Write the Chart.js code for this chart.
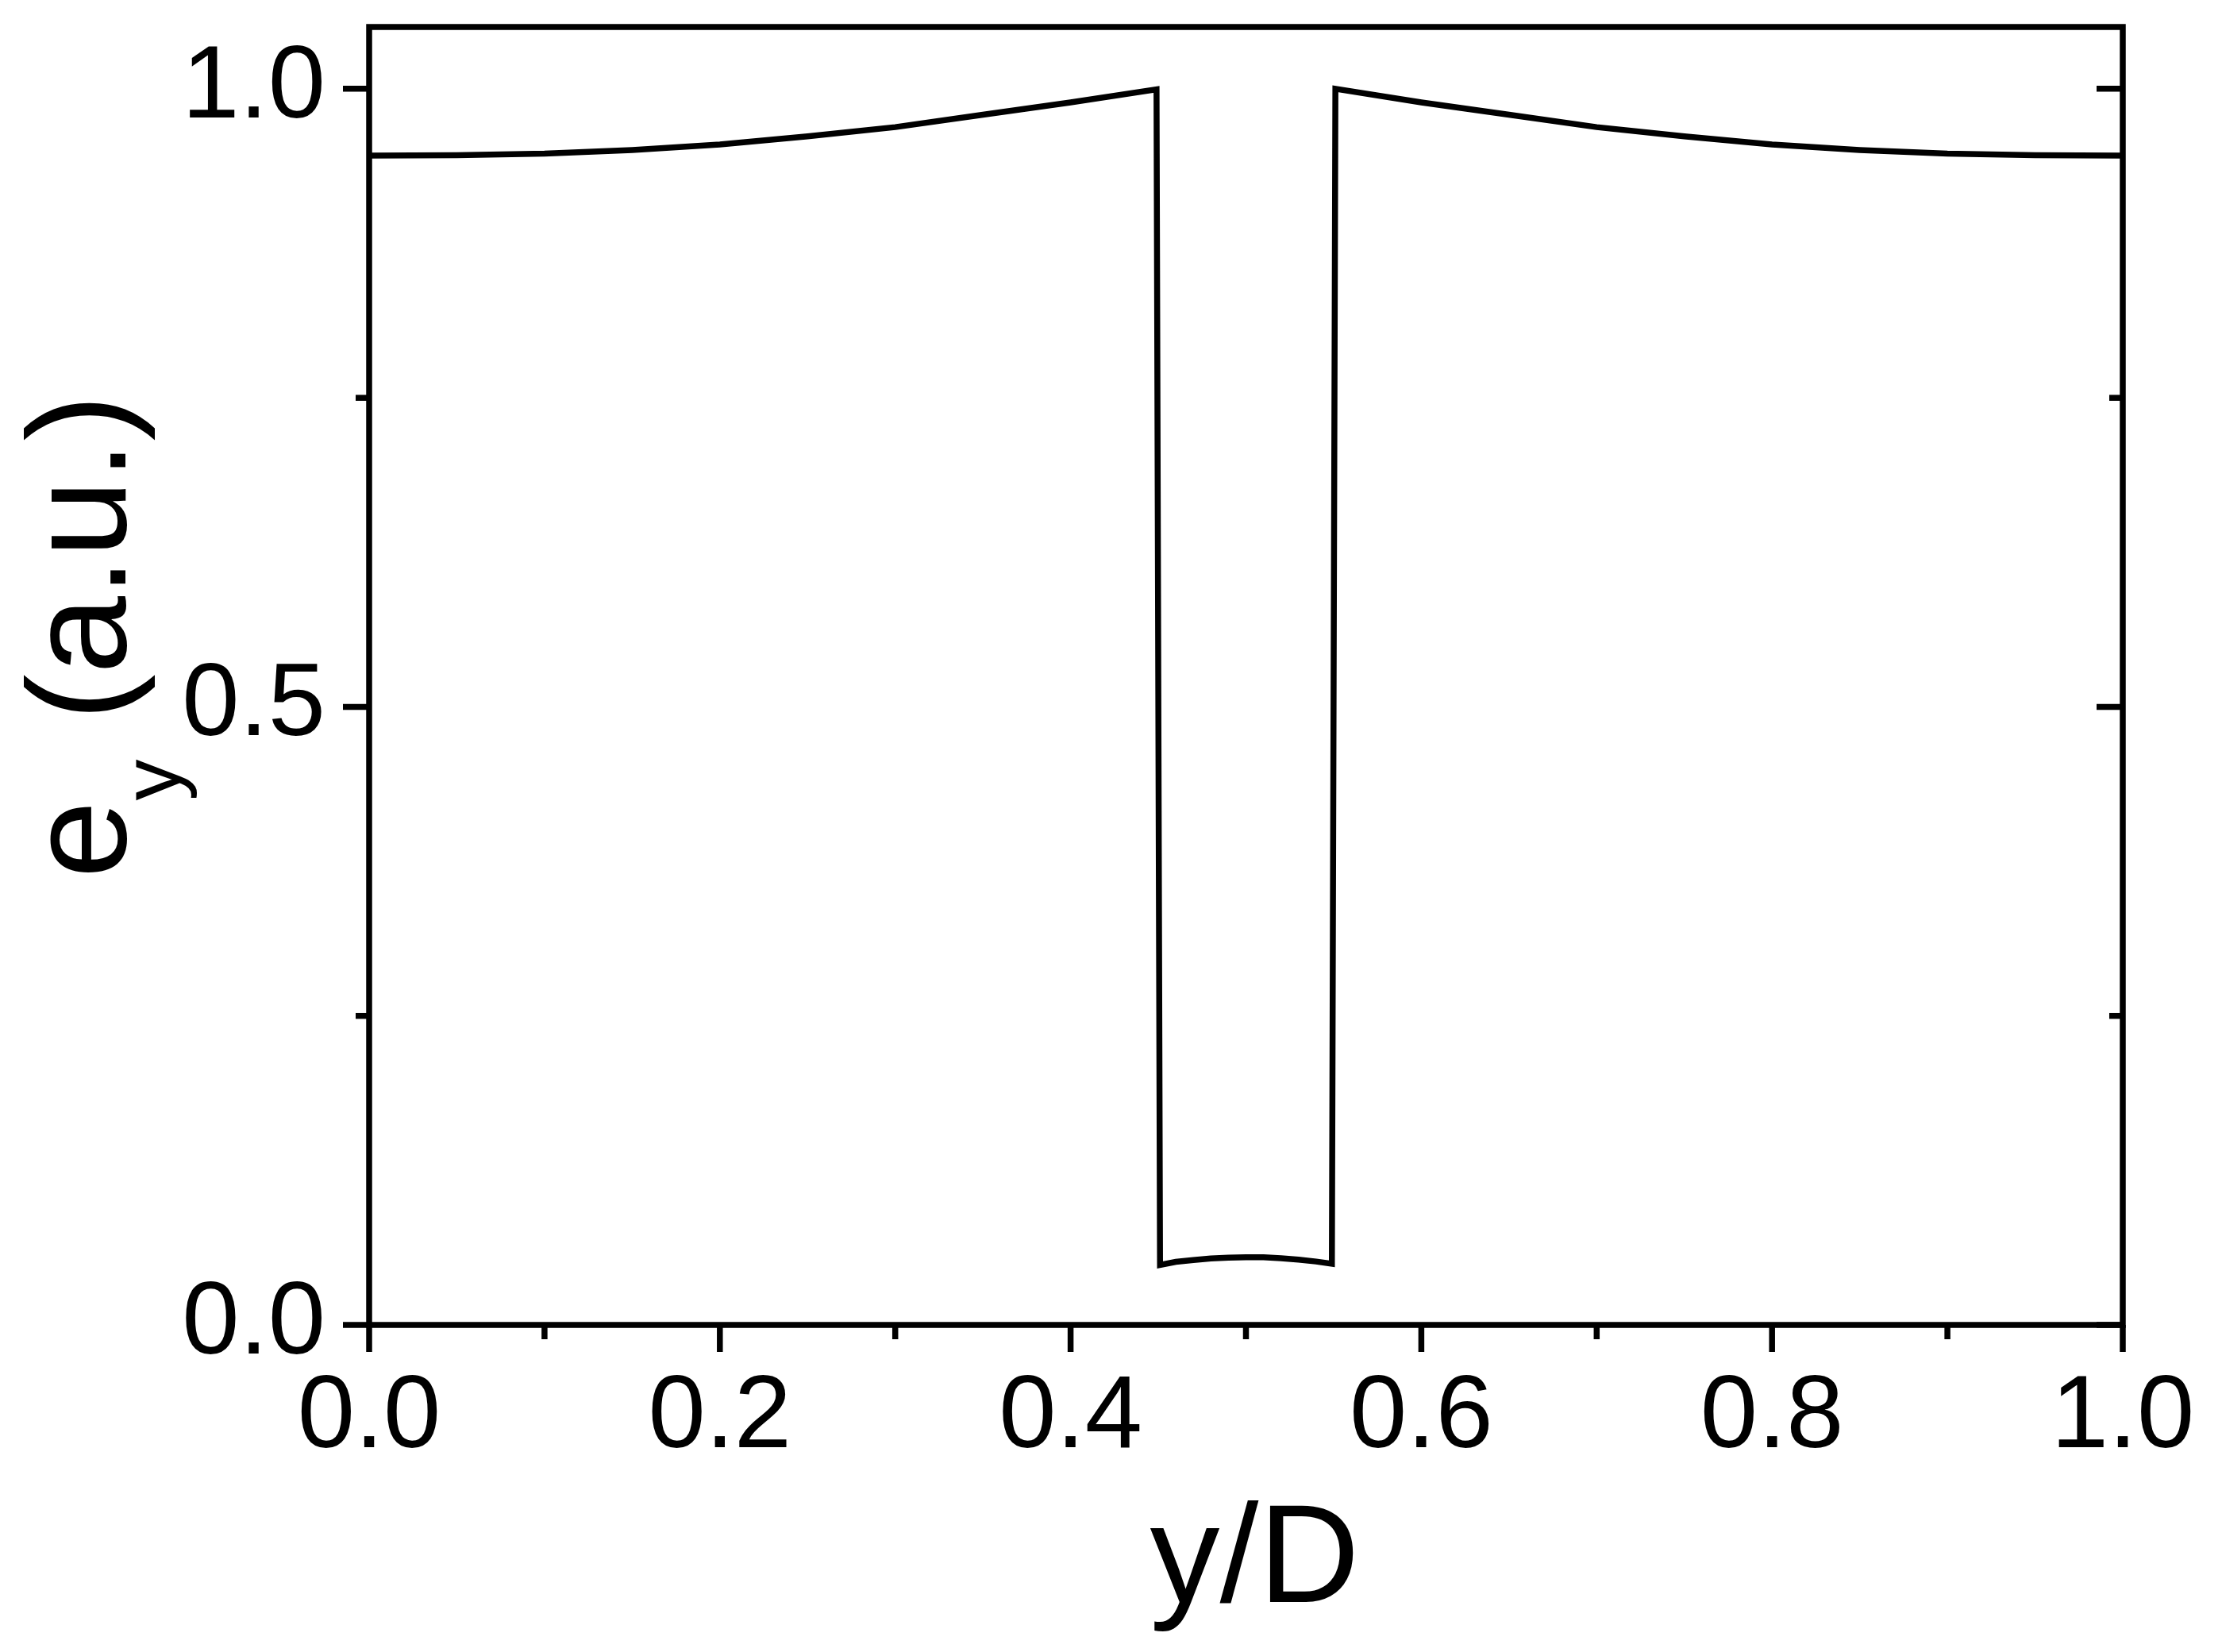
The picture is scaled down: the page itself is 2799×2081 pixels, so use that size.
<!DOCTYPE html>
<html>
<head>
<meta charset="utf-8">
<script src="https://cdn.jsdelivr.net/npm/chart.js@4"></script>
<style>
  html, body { margin: 0; padding: 0; background: #fff; }
  canvas { display: block; }
</style>
</head>
<body>
<canvas id="myChart" width="2799" height="2081"></canvas>
<script>
// y/D positions and e_y values
const yD = [0, 0.05, 0.1, 0.15, 0.2, 0.25, 0.3, 0.35, 0.4, 0.449,
            0.451, 0.46, 0.47, 0.48, 0.49, 0.5, 0.51, 0.52, 0.53, 0.54, 0.549,
            0.551, 0.6, 0.65, 0.7, 0.75, 0.8, 0.85, 0.9, 0.95, 1.0];
const ey = [0.946, 0.9463, 0.9475, 0.9505, 0.955, 0.9615, 0.969, 0.979, 0.989, 0.9995,
            0.0485, 0.051, 0.0525, 0.0538, 0.0545, 0.0548, 0.0547, 0.054, 0.0528, 0.0513, 0.0495,
            1.0, 0.989, 0.979, 0.969, 0.9615, 0.955, 0.9505, 0.9475, 0.9463, 0.946];

const xMajorTicks = [0, 0.2, 0.4, 0.6, 0.8, 1.0];
const xMinorTicks = [0.1, 0.3, 0.5, 0.7, 0.9];
const xTickLabels = ['0.0', '0.2', '0.4', '0.6', '0.8', '1.0'];
const yMajorTicks = [0, 0.5, 1.0];
const yMinorTicks = [0.25, 0.75];
const yTickLabels = ['0.0', '0.5', '1.0'];

const FONT = "'Liberation Sans', Arial, sans-serif";

// frame, inward/outward ticks and the two axis titles
const framePlugin = {
    id: 'frame',
    afterDraw(chart) {
        const ctx = chart.ctx;
        const a = chart.chartArea;
        const xs = chart.scales.x;
        const ys = chart.scales.y;

        ctx.save();
        ctx.strokeStyle = '#000';
        ctx.fillStyle = '#000';
        ctx.lineWidth = 7.5;
        ctx.strokeRect(a.left, a.top, a.right - a.left, a.bottom - a.top);

        function tick(x1, y1, x2, y2) {
            ctx.beginPath();
            ctx.moveTo(x1, y1);
            ctx.lineTo(x2, y2);
            ctx.stroke();
        }
        xMajorTicks.forEach(v => {
            const px = xs.getPixelForValue(v);
            tick(px, a.bottom, px, a.bottom + 34);
        });
        xMinorTicks.forEach(v => {
            const px = xs.getPixelForValue(v);
            tick(px, a.bottom, px, a.bottom + 18);
        });
        yMajorTicks.forEach(v => {
            const py = ys.getPixelForValue(v);
            tick(a.left - 33, py, a.left, py);
            tick(a.right, py, a.right - 33, py);
        });
        yMinorTicks.forEach(v => {
            const py = ys.getPixelForValue(v);
            tick(a.left - 17, py, a.left, py);
            tick(a.right, py, a.right - 17, py);
        });

        // x title
        ctx.font = '176px ' + FONT;
        ctx.textAlign = 'center';
        ctx.textBaseline = 'alphabetic';
        ctx.fillText('y/D', (a.left + a.right) / 2 + 11, a.bottom + 349);

        // y title, rotated, with subscript
        ctx.translate(a.left - 307, (a.top + a.bottom) / 2 + 255);
        ctx.rotate(-Math.PI / 2);
        ctx.textAlign = 'left';
        ctx.fillText('e', 0, 0);
        let w = ctx.measureText('e').width;
        ctx.font = '104px ' + FONT;
        ctx.fillText('y', w, 68);
        w += ctx.measureText('y').width;
        ctx.font = '176px ' + FONT;
        ctx.fillText(' (a.u.)', w, 0);
        ctx.restore();
    }
};

const ctx = document.getElementById('myChart').getContext('2d');
const chart = new Chart(ctx, {
    type: 'line',
    data: {
        datasets: [{
            data: yD.map((v, i) => ({ x: v, y: ey[i] })),
            borderColor: '#000',
            borderWidth: 7.5,
            pointRadius: 0,
            tension: 0,
            borderJoinStyle: 'miter',
            fill: false
        }]
    },
    options: {
        responsive: false,
        animation: false,
        devicePixelRatio: 1,
        layout: { padding: { top: 34, right: 125, left: 0, bottom: 0 } },
        plugins: { legend: { display: false }, tooltip: { enabled: false } },
        scales: {
            x: {
                type: 'linear',
                min: 0,
                max: 1,
                afterBuildTicks: s => { s.ticks = xMajorTicks.map(v => ({ value: v })); },
                afterFit: s => { s.height = 412; s.paddingLeft = 0; s.paddingRight = 0; },
                grid: { display: false, drawTicks: false },
                border: { display: false },
                ticks: {
                    callback: (v, i) => xTickLabels[i],
                    font: { family: FONT, size: 130 },
                    color: '#000',
                    padding: 40,
                    maxRotation: 0,
                    autoSkip: false
                }
            },
            y: {
                type: 'linear',
                min: 0,
                max: 1.05,
                afterBuildTicks: s => { s.ticks = yMajorTicks.map(v => ({ value: v })); },
                afterFit: s => { s.width = 465; s.paddingTop = 0; s.paddingBottom = 0; },
                grid: { display: false, drawTicks: false },
                border: { display: false },
                ticks: {
                    callback: (v, i) => yTickLabels[i],
                    font: { family: FONT, size: 130 },
                    color: '#000',
                    padding: 55,
                    autoSkip: false
                }
            }
        }
    },
    plugins: [framePlugin]
});
</script>
</body>
</html>
